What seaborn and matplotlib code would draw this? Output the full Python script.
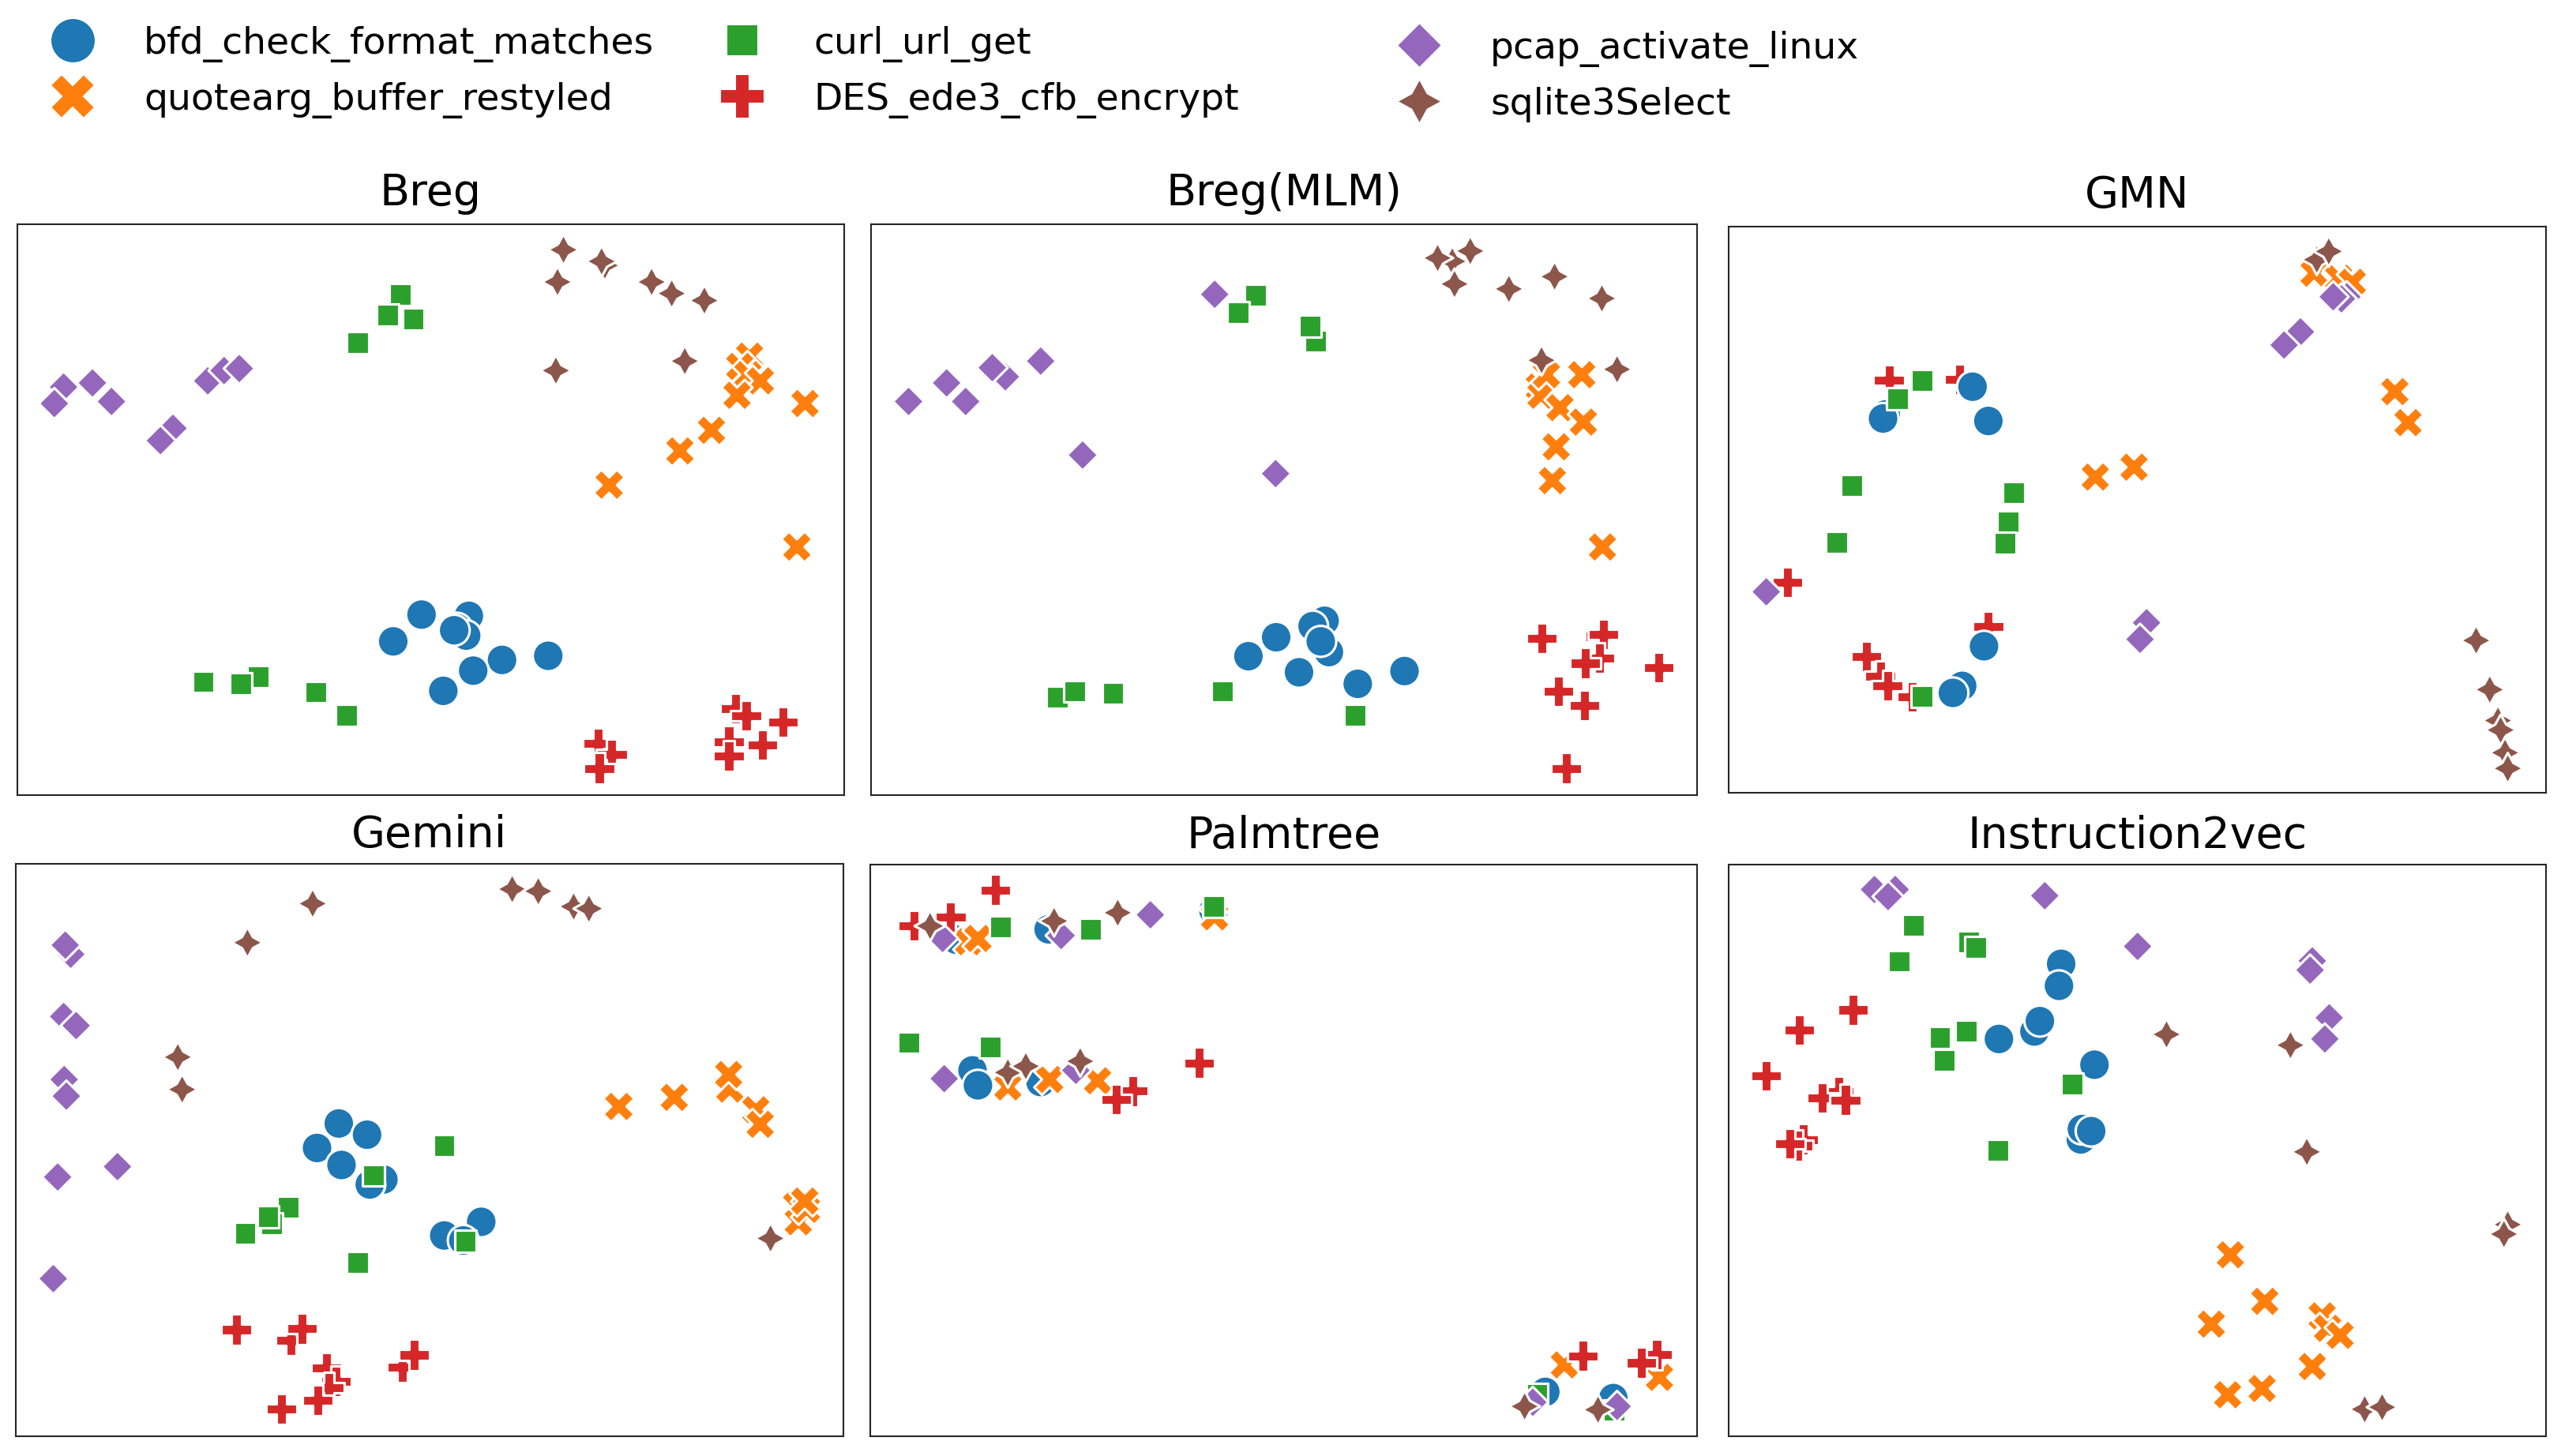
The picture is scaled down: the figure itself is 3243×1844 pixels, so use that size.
import matplotlib
matplotlib.use("Agg")
import matplotlib.pyplot as plt
from matplotlib.lines import Line2D
import pandas as pd
import seaborn as sns

sns.set_style("white")
plt.rcParams['font.family'] = ['DejaVu Sans']
plt.rcParams['text.color'] = 'black'
plt.rcParams['axes.titlecolor'] = 'black'

FUNCS = ["bfd_check_format_matches", "quotearg_buffer_restyled", "curl_url_get",
         "DES_ede3_cfb_encrypt", "pcap_activate_linux", "sqlite3Select"]
TITLES = ["Breg", "Breg(MLM)", "GMN", "Gemini", "Palmtree", "Instruction2vec"]

# ---- embedded 2-D coordinates (arbitrary t-SNE units, y grows downward) ----
BREG_BFD = [(775,1107),(862,1110),(723,1172),(840,1140),(857,1158),(923,1217),(1008,1207),(870,1243),(815,1292),(835,1145)]
BREG_QUO = [(1378,480),(1360,505),(1375,525),(1398,540),(1355,575),(1480,595),(1308,660),(1250,710),(1120,793),(1465,943)]
BREG_CURL = [(736,330),(713,380),(760,390),(658,448),(374,1270),(475,1258),(443,1275),(581,1295),(637,1352)]
BREG_DES = [(1352,1335),(1372,1352),(1440,1368),(1340,1415),(1402,1423),(1340,1450),(1100,1420),(1125,1447),(1102,1480)]
BREG_PCAP = [(117,555),(100,595),(170,545),(205,590),(318,655),(295,685),(382,540),(412,515),(440,510)]
BREG_SQL = [(1036,222),(1112,260),(1106,250),(1025,300),(1198,300),(1235,328),(1295,345),(1022,515),(1259,492)]

MLM_BFD = [(867,1122),(845,1135),(778,1162),(727,1208),(875,1198),(860,1172),(820,1247),(928,1275),(1014,1244)]
MLM_QUO = [(1262,555),(1265,575),(1275,525),(1340,525),(1300,605),(1343,640),(1293,700),(1286,782),(1378,943)]
MLM_CURL = [(740,333),(708,375),(851,443),(840,407),(376,1308),(408,1293),(478,1298),(679,1293),(923,1352)]
MLM_DES = [(1375,1160),(1380,1155),(1372,1212),(1267,1165),(1347,1225),(1482,1235),(1297,1293),(1345,1328),(1312,1480)]
MLM_PCAP = [(665,330),(102,590),(172,545),(207,590),(280,530),(256,508),(345,492),(422,720),(777,765)]
MLM_SQL = [(1102,250),(1075,242),(1135,225),(1106,305),(1206,317),(1290,287),(1377,340),(1266,490),(1405,512)]

GMN_BFD = [(330,620),(325,630),(489,553),(518,636),(510,1182),(470,1278),(453,1295)]
GMN_QUO = [(1115,278),(1160,290),(1185,300),(1263,565),(1287,640),(714,772),(785,748)]
GMN_CURL = [(397,538),(352,582),(268,792),(240,930),(565,810),(554,880),(549,932),(397,1303)]
GMN_DES = [(336,538),(465,535),(150,1027),(518,1135),(295,1207),(320,1255),(333,1278),(378,1305)]
GMN_PCAP = [(1175,335),(1165,340),(1150,335),(1090,420),(1060,452),(111,1050),(808,1125),(796,1165)]
GMN_SQL = [(1120,245),(1142,225),(1412,1168),(1437,1287),(1452,1362),(1457,1385),(1465,1440),(1470,1478)]

GEM_BFD = [(623,768),(675,795),(583,827),(628,868),(705,903),(680,915),(885,1005),(817,1038),(852,1050)]
GEM_QUO = [(1138,727),(1240,705),(1342,685),(1340,650),(1390,735),(1398,770),(1465,965),(1468,1005),(1483,975),(1480,955)]
GEM_CURL = [(817,822),(687,893),(530,970),(500,1010),(493,993),(451,1033),(658,1103),(856,1052)]
GEM_DES = [(435,1265),(535,1290),(555,1263),(600,1357),(618,1390),(605,1405),(585,1435),(518,1457),(740,1355),(762,1326)]
GEM_PCAP = [(130,360),(120,338),(117,510),(140,532),(118,662),(122,702),(106,897),(216,872),(98,1142)]
GEM_SQL = [(575,238),(455,332),(942,203),(990,208),(1055,245),(1083,250),(327,608),(335,686),(1417,1045)]

PALM_BFD = [(190,325),(360,300),(663,255),(220,640),(230,676),(345,668),(1273,1415),(1398,1430)]
PALM_QUO = [(213,330),(230,322),(665,270),(285,680),(362,662),(450,665),(1308,1350),(1483,1380)]
PALM_CURL = [(272,295),(437,300),(663,245),(103,573),(253,583),(1258,1420),(1400,1460)]
PALM_DES = [(262,205),(112,292),(180,270),(637,622),(515,690),(484,710),(1342,1328),(1478,1325),(1450,1345)]
PALM_PCAP = [(165,322),(383,315),(547,265),(168,660),(410,640),(1250,1440),(1405,1450)]
PALM_SQL = [(142,292),(370,280),(487,260),(285,645),(318,630),(418,618),(1235,1450),(1370,1458)]

I2V_BFD = [(652,382),(648,435),(603,545),(613,520),(538,563),(713,625),(688,805),(690,780),(707,785)]
I2V_QUO = [(962,1083),(1025,1195),(927,1250),(1130,1230),(1140,1260),(1163,1277),(1112,1352),(957,1420),(1020,1405)]
I2V_CURL = [(381,290),(483,330),(496,343),(355,376),(430,560),(478,545),(438,615),(672,672),(536,832)]
I2V_DES = [(271,493),(172,542),(110,648),(112,652),(245,690),(215,705),(257,710),(180,805),(170,820),(155,815)]
I2V_PCAP = [(310,203),(348,203),(335,220),(622,218),(792,340),(1112,375),(1108,397),(1143,512),(1135,563)]
I2V_SQL = [(845,552),(1072,578),(1102,835),(1470,1010),(1463,1033),(1208,1455),(1240,1450)]

PANEL_DATA = [
    {FUNCS[0]: BREG_BFD, FUNCS[1]: BREG_QUO, FUNCS[2]: BREG_CURL, FUNCS[3]: BREG_DES, FUNCS[4]: BREG_PCAP, FUNCS[5]: BREG_SQL},
    {FUNCS[0]: MLM_BFD, FUNCS[1]: MLM_QUO, FUNCS[2]: MLM_CURL, FUNCS[3]: MLM_DES, FUNCS[4]: MLM_PCAP, FUNCS[5]: MLM_SQL},
    {FUNCS[0]: GMN_BFD, FUNCS[1]: GMN_QUO, FUNCS[2]: GMN_CURL, FUNCS[3]: GMN_DES, FUNCS[4]: GMN_PCAP, FUNCS[5]: GMN_SQL},
    {FUNCS[0]: GEM_BFD, FUNCS[1]: GEM_QUO, FUNCS[2]: GEM_CURL, FUNCS[3]: GEM_DES, FUNCS[4]: GEM_PCAP, FUNCS[5]: GEM_SQL},
    {FUNCS[0]: PALM_BFD, FUNCS[1]: PALM_QUO, FUNCS[2]: PALM_CURL, FUNCS[3]: PALM_DES, FUNCS[4]: PALM_PCAP, FUNCS[5]: PALM_SQL},
    {FUNCS[0]: I2V_BFD, FUNCS[1]: I2V_QUO, FUNCS[2]: I2V_CURL, FUNCS[3]: I2V_DES, FUNCS[4]: I2V_PCAP, FUNCS[5]: I2V_SQL},
]

# drawing order (z-order of groups) per panel
DRAW_ORDER = [
    [0, 1, 2, 3, 4, 5],
    [0, 1, 2, 3, 4, 5],
    [3, 0, 2, 1, 4, 5],
    [0, 1, 2, 3, 4, 5],
    [0, 1, 2, 3, 4, 5],
    [0, 1, 2, 3, 4, 5],
]

# ---- layout (figure pixels) ----
W, H = 3243, 1844
AX_BOX = [  # left, right, top, bottom in pixels
    (22, 1069, 284, 1007),
    (1103, 2149, 284, 1007),
    (2189, 3224, 287, 1004),
    (20, 1068, 1094, 1819),
    (1102, 2149, 1095, 1819),
    (2189, 3224, 1095, 1819),
]
LIMS = [  # xlim, ylim (inverted)
    ((32, 1552), (1545, 160)),
    ((33, 1552), (1545, 160)),
    ((42, 1540), (1537, 165)),
    ((29, 1551), (1522, 142)),
    ((32, 1552), (1522, 144)),
    ((43, 1540), (1520, 143)),
]
TITLE_PAD = [17, 17, 17, 15, 15, 15]

palette = dict(zip(FUNCS, sns.color_palette("tab10", 6)))
markers = dict(zip(FUNCS, ["o", "X", (4, 0, 45), "P", (4, 0, 0), (4, 1, 0)]))

fig = plt.figure(figsize=(W / 100, H / 100), dpi=100)

for i, title in enumerate(TITLES):
    l, r, t, b = AX_BOX[i]
    ax = fig.add_axes([l / W, 1 - b / H, (r - l) / W, (b - t) / H])
    rows = []
    for k in DRAW_ORDER[i]:
        f = FUNCS[k]
        for (x, y) in PANEL_DATA[i][f]:
            rows.append({"x": x, "y": y, "function": f})
    df = pd.DataFrame(rows)
    sns.scatterplot(data=df, x="x", y="y", hue="function", style="function",
                    hue_order=FUNCS, style_order=FUNCS, palette=palette,
                    markers=markers, s=800, ax=ax, legend=False)
    ax.set_xlim(*LIMS[i][0])
    ax.set_ylim(*LIMS[i][1])
    ax.set_xticks([])
    ax.set_yticks([])
    ax.set_xlabel("")
    ax.set_ylabel("")
    ax.set_title(title, fontsize=40, pad=TITLE_PAD[i], color="black")
    for sp in ax.spines.values():
        sp.set_visible(True)
        sp.set_color("#262626")
        sp.set_linewidth(1.5)

handles = [Line2D([], [], linestyle="", marker=markers[f], color=palette[f],
                  markeredgecolor="w", markeredgewidth=1.5, markersize=41) for f in FUNCS]

LEG_X = [45, 893, 1750]
LEG_TOP = [33, 33, 39]
for c in range(3):
    leg = fig.legend(handles=handles[2 * c:2 * c + 2], labels=FUNCS[2 * c:2 * c + 2],
                     loc="upper left", bbox_to_anchor=(LEG_X[c] / W, 1 - LEG_TOP[c] / H),
                     frameon=False, fontsize=34, borderpad=0, borderaxespad=0,
                     handletextpad=0.9, labelspacing=0.52)
    for txt in leg.get_texts():
        txt.set_color("black")

fig.savefig("out.png", dpi=100)
